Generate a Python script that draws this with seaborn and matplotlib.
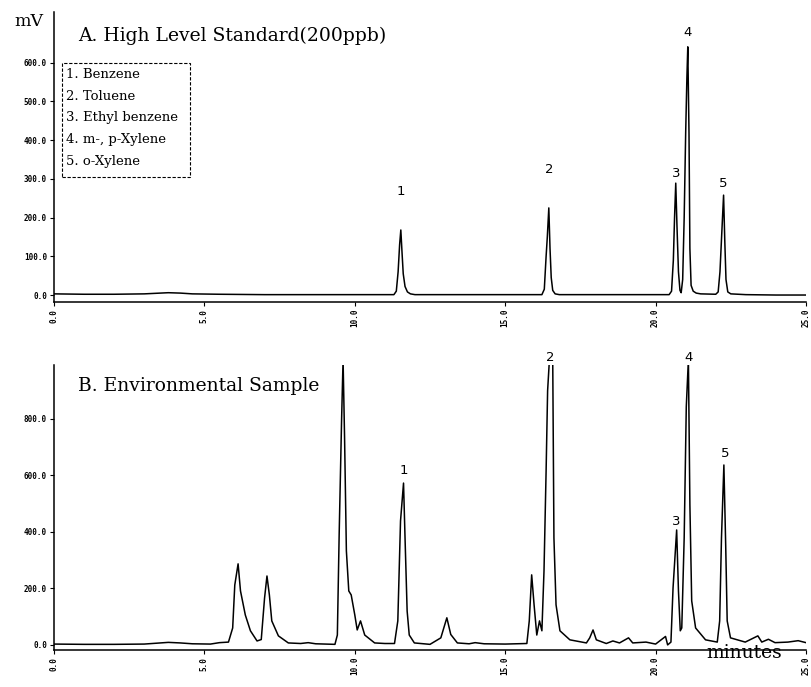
import matplotlib
matplotlib.use("Agg")
import matplotlib.pyplot as plt
import seaborn as sns
import pandas as pd
from matplotlib.patches import Rectangle

# ---------------- data ----------------
top_time = [0.0, 1.0, 2.0, 3.0, 3.8, 4.2, 4.6, 5.5, 7.0, 9.0, 10.5,
            11.30, 11.38, 11.44, 11.49, 11.53, 11.57, 11.61, 11.67, 11.75, 11.85, 12.0,
            13.5, 15.0,
            16.22, 16.30, 16.36, 16.40, 16.45, 16.49, 16.53, 16.58, 16.66, 16.8,
            18.0, 19.5,
            20.45, 20.53, 20.59, 20.63, 20.67, 20.71, 20.76, 20.81, 20.85, 20.90,
            20.95, 21.00, 21.04, 21.07, 21.11, 21.14, 21.18, 21.25, 21.35, 21.5,
            22.0, 22.08, 22.14, 22.20, 22.26, 22.30, 22.34, 22.40, 22.5,
            23.0, 24.0, 25.0]
top_mv = [3, 2, 2, 3, 6, 5, 3, 2, 1, 1, 1,
          1, 10, 60, 130, 168, 110, 55, 22, 8, 3, 1,
          1, 1,
          1, 15, 100, 150, 225, 120, 45, 12, 3, 1,
          1, 1,
          1, 10, 90, 200, 289, 180, 60, 12, 6, 40,
          200, 420, 560, 641, 420, 120, 25, 10, 5, 3,
          2, 8, 60, 160, 258, 140, 40, 8, 3,
          1, 0, 0]

bot_time = [0.0, 1.0, 2.0, 3.0, 3.4, 3.8, 4.2, 4.6, 5.2, 5.5,
            5.8, 5.94, 6.01, 6.12, 6.20, 6.36, 6.53, 6.75, 6.89, 7.00,
            7.08, 7.16, 7.24, 7.46, 7.79, 8.2, 8.45, 8.7, 9.34, 9.42,
            9.48, 9.56, 9.61, 9.66, 9.72, 9.80, 9.88, 10.00, 10.08, 10.19,
            10.33, 10.66, 11.0, 11.32, 11.43, 11.52, 11.62, 11.67, 11.74, 11.81,
            11.98, 12.5, 12.86, 13.06, 13.19, 13.41, 13.8, 14.0, 14.3, 15.0,
            15.72, 15.80, 15.88, 15.96, 16.05, 16.14, 16.22, 16.29, 16.36, 16.41,
            16.47, 16.58, 16.62, 16.69, 16.82, 17.15, 17.70, 17.81, 17.92, 18.03,
            18.36, 18.58, 18.80, 19.10, 19.24, 19.68, 20.0, 20.33, 20.40, 20.51,
            20.58, 20.70, 20.76, 20.82, 20.87, 20.95, 21.02, 21.09, 21.14, 21.20,
            21.33, 21.66, 22.05, 22.13, 22.19, 22.27, 22.33, 22.38, 22.49, 22.98,
            23.40, 23.53, 23.75, 23.97, 24.40, 24.74, 25.0]
bot_mv = [3, 2, 2, 3, 6, 9, 7, 4, 3, 8,
          10, 60, 212, 287, 191, 106, 50, 14, 19, 166,
          244, 177, 85, 32, 7, 5, 8, 4, 2, 35,
          390, 793, 1010, 733, 333, 191, 177, 106, 53, 85,
          35, 7, 5, 5, 85, 439, 573, 379, 120, 35,
          7, 2, 25, 96, 37, 7, 4, 8, 4, 3,
          5, 85, 248, 142, 35, 85, 50, 262, 616, 900,
          1010, 1010, 379, 142, 50, 18, 7, 25, 53, 18,
          5, 14, 7, 25, 7, 10, 3, 30, 0, 10,
          202, 407, 191, 50, 60, 379, 843, 1010, 496, 156,
          60, 18, 10, 85, 379, 637, 354, 85, 25, 10,
          32, 10, 20, 8, 10, 15, 8]

peak_names = ["1", "2", "3", "4", "5"]
top_peak_t = [11.53, 16.45, 20.67, 21.07, 22.26]
top_peak_lbl_y = [250, 307, 297, 662, 272]
bot_peak_t = [11.62, 16.50, 20.70, 21.09, 22.30]
bot_peak_lbl_y = [595, 995, 415, 995, 655]

compounds = ["1. Benzene", "2. Toluene", "3. Ethyl benzene",
             "4. m-, p-Xylene", "5. o-Xylene"]

x_ticks = [0, 5, 10, 15, 20, 25]
x_tick_labels = ["0.0", "5.0", "10.0", "15.0", "20.0", "25.0"]
top_y_ticks = [0, 100, 200, 300, 400, 500, 600]
top_y_labels = ["0.0", "100.0", "200.0", "300.0", "400.0", "500.0", "600.0"]
bot_y_ticks = [0, 200, 400, 600, 800]
bot_y_labels = ["0.0", "200.0", "400.0", "600.0", "800.0"]

top_df = pd.DataFrame({"time": top_time, "mV": top_mv})
bot_df = pd.DataFrame({"time": bot_time, "mV": bot_mv})

# ---------------- figure ----------------
sns.set_style("white")
plt.rcParams["font.family"] = ["DejaVu Sans"]
plt.rcParams["text.color"] = "black"
W, H = 812, 687
fig = plt.figure(figsize=(W / 100, H / 100), dpi=100)

def fx(px):
    return px / W

def fy(py):
    return 1 - py / H

RIGHT = 806
ax1 = fig.add_axes([fx(54), fy(302), fx(RIGHT) - fx(54), fy(12) - fy(302)])
ax2 = fig.add_axes([fx(54), fy(650), fx(RIGHT) - fx(54), fy(365) - fy(650)])

sns.lineplot(data=top_df, x="time", y="mV", ax=ax1, color="black",
             linewidth=1.1, estimator=None, sort=False)
sns.lineplot(data=bot_df, x="time", y="mV", ax=ax2, color="black",
             linewidth=1.1, estimator=None, sort=False)

ax1.set_xlim(0, 25)
ax1.set_ylim(-18, 731)
ax2.set_xlim(0, 25)
ax2.set_ylim(-18, 991)

for ax, yt, yl in [(ax1, top_y_ticks, top_y_labels), (ax2, bot_y_ticks, bot_y_labels)]:
    ax.set_xlabel("")
    ax.set_ylabel("")
    for s in ["top", "right"]:
        ax.spines[s].set_visible(False)
    for s in ["left", "bottom"]:
        ax.spines[s].set_color("black")
        ax.spines[s].set_linewidth(1.1)
    ax.set_xticks(x_ticks)
    ax.set_xticklabels(x_tick_labels, rotation=90, fontsize=5.5,
                       family="DejaVu Sans Mono", fontweight="bold")
    ax.set_yticks(yt)
    ax.set_yticklabels(yl, fontsize=5.5, family="DejaVu Sans Mono",
                       fontweight="bold")
    ax.tick_params(axis="both", direction="out", length=3, width=0.8,
                   colors="black", pad=2, left=True, bottom=True)

# peak labels
for n, t, y in zip(peak_names, top_peak_t, top_peak_lbl_y):
    ax1.text(t, y, n, ha="center", va="bottom", fontsize=9.5, color="black")
for n, t, y in zip(peak_names, bot_peak_t, bot_peak_lbl_y):
    ax2.text(t, y, n, ha="center", va="bottom", fontsize=9.5, color="black",
             clip_on=False)

# titles and labels
fig.text(fx(14), fy(21), "mV", family="DejaVu Serif", fontsize=12.5,
         ha="left", va="center", color="black")
fig.text(fx(78), fy(36), "A. High Level Standard(200ppb)", family="DejaVu Serif",
         fontsize=13.5, ha="left", va="center", color="black")
fig.text(fx(78), fy(386), "B. Environmental Sample", family="DejaVu Serif",
         fontsize=13.5, ha="left", va="center", color="black")
fig.text(fx(706), fy(653), "minutes", family="DejaVu Serif",
         fontsize=13.5, ha="left", va="center", color="black")

# compound key box
box = Rectangle((fx(62), fy(177)), fx(190) - fx(62), fy(63) - fy(177),
                transform=fig.transFigure, fill=False, edgecolor="black",
                linewidth=0.8, linestyle=(0, (3, 1.5)))
fig.patches.append(box)
for i, c in enumerate(compounds):
    fig.text(fx(66), fy(75 + i * 21.5), c, family="DejaVu Serif", fontsize=9.5,
             ha="left", va="center", color="black")

fig.savefig("out.png", dpi=100, facecolor="white")
